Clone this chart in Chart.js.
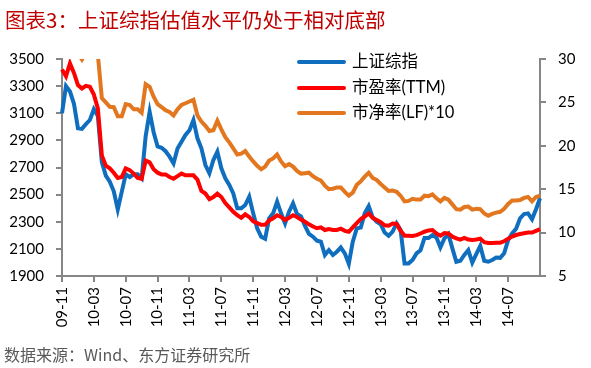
<!DOCTYPE html>
<html><head><meta charset="utf-8">
<script src="https://cdn.jsdelivr.net/npm/chart.js@4.4.1/dist/chart.umd.min.js"></script>
<style>html,body{margin:0;padding:0;background:#fff;}canvas{display:block}</style>
</head><body>
<canvas id="c" width="591" height="368"></canvas>
<script>
const titleText = '图表3：上证综指估值水平仍处于相对底部';
const sourceText = '数据来源：Wind、东方证券研究所';
const seriesNames = ['上证综指', '市盈率(TTM)', '市净率(LF)*10'];
const tickLabels = ['09-11','10-03','10-07','10-11','11-03','11-07','11-11','12-03','12-07','12-11','13-03','13-07','13-11','14-03','14-07'];
const categories = [
 "09-11-01","09-11-16","09-12-01","09-12-16",
 "10-01-01","10-01-16","10-02-01","10-02-16","10-03-01","10-03-16","10-04-01","10-04-16","10-05-01","10-05-16","10-06-01","10-06-16","10-07-01","10-07-16","10-08-01","10-08-16","10-09-01","10-09-16","10-10-01","10-10-16","10-11-01","10-11-16","10-12-01","10-12-16",
 "11-01-01","11-01-16","11-02-01","11-02-16","11-03-01","11-03-16","11-04-01","11-04-16","11-05-01","11-05-16","11-06-01","11-06-16","11-07-01","11-07-16","11-08-01","11-08-16","11-09-01","11-09-16","11-10-01","11-10-16","11-11-01","11-11-16","11-12-01","11-12-16",
 "12-01-01","12-01-16","12-02-01","12-02-16","12-03-01","12-03-16","12-04-01","12-04-16","12-05-01","12-05-16","12-06-01","12-06-16","12-07-01","12-07-16","12-08-01","12-08-16","12-09-01","12-09-16","12-10-01","12-10-16","12-11-01","12-11-16","12-12-01","12-12-16",
 "13-01-01","13-01-16","13-02-01","13-02-16","13-03-01","13-03-16","13-04-01","13-04-16","13-05-01","13-05-16","13-06-01","13-06-16","13-07-01","13-07-16","13-08-01","13-08-16","13-09-01","13-09-16","13-10-01","13-10-16","13-11-01","13-11-16","13-12-01","13-12-16",
 "14-01-01","14-01-16","14-02-01","14-02-16","14-03-01","14-03-16","14-04-01","14-04-16","14-05-01","14-05-16","14-06-01","14-06-16","14-07-01","14-07-16","14-08-01","14-08-16","14-09-01","14-09-16","14-10-01","14-10-16","14-11-01"
];
const sseIndex = [
 3100,3300,3260,3170,2990,2985,3020,3050,3130,3080,
 2740,2640,2595,2525,2390,2520,2650,2630,2650,2650,
 2620,2930,3110,2960,2855,2845,2820,2780,2730,2840,
 2890,2940,2975,3050,2915,2841,2718,2657,2755,2816,
 2694,2620,2571,2509,2399,2399,2423,2485,2362,2251,
 2190,2175,2325,2362,2448,2362,2288,2374,2436,2357,
 2340,2270,2210,2190,2160,2153,2055,2091,2055,2079,
 2110,2067,1990,2153,2251,2257,2362,2415,2332,2300,
 2282,2220,2196,2227,2288,2239,1993,1993,2018,2067,
 2090,2180,2180,2202,2184,2111,2177,2208,2104,2005,
 2012,2055,2091,1999,2061,2122,2012,2005,2018,2036,
 2034,2067,2165,2214,2249,2325,2357,2362,2318,2392,
 2473
];
const peTTM = [
 28.8,28.0,29.5,28.4,27.0,26.6,26.9,26.8,25.9,24.3,
 18.9,17.7,17.4,16.9,16.3,16.4,17.4,17.2,16.8,16.3,
 16.2,18.3,18.1,17.3,16.9,16.7,16.7,16.4,16.2,16.5,
 16.8,16.6,16.6,16.6,16.1,14.8,14.5,13.85,14.1,14.5,
 14.1,13.4,12.9,12.4,12.0,11.7,12.1,11.8,11.3,11.1,
 10.9,10.9,11.4,11.65,12.0,11.8,11.45,11.7,12.0,11.8,
 11.5,11.25,10.95,10.7,10.5,10.6,10.3,10.4,10.3,10.3,
 10.45,10.2,10.1,10.6,11.1,11.55,11.85,12.2,11.7,11.45,
 11.2,10.85,10.8,11.05,11.0,10.2,9.65,9.65,9.6,9.7,
 9.9,10.1,10.25,10.3,9.9,9.65,9.95,9.9,9.53,9.34,
 9.2,9.4,9.2,9.15,9.2,9.3,8.9,8.8,8.8,8.84,
 8.84,9.0,9.3,9.55,9.72,9.84,9.92,10.0,10.0,10.2,
 10.4
];
const pbLF10 = [
 34.5,34.0,34.5,33.0,30.6,29.95,30.8,31.2,31.5,30.5,
 25.5,25.0,24.5,24.45,23.4,23.4,24.8,24.7,24.2,24.2,
 23.8,27.1,26.8,25.66,24.8,24.45,24.1,23.9,23.5,24.2,
 24.7,24.9,25.1,25.3,23.5,22.8,22.3,21.7,21.8,22.9,
 21.9,21.0,20.4,19.7,19.0,19.1,19.4,18.75,18.2,17.7,
 17.3,17.6,18.3,18.55,19.0,18.2,17.65,17.9,17.6,17.1,
 16.8,16.85,16.9,16.5,16.2,16.0,15.4,15.0,15.05,15.2,
 15.2,14.7,14.25,14.6,15.5,15.9,16.45,16.9,16.3,16.06,
 15.6,15.2,14.8,14.85,14.7,14.25,13.6,13.65,13.9,13.8,
 13.8,14.25,14.2,14.4,13.95,13.6,14.0,13.8,13.25,12.7,
 12.65,12.95,13.0,12.65,12.75,12.7,12.2,11.95,12.15,12.3,
 12.4,12.75,13.3,13.7,13.7,13.75,14.0,14.1,13.6,14.1,
 14.25
];

const AXIS = '#868686';
const tickFont = { family: 'Lato, "Liberation Sans", sans-serif', size: 15 };

const decor = {
  id: 'decor',
  beforeDraw(chart) {
    const ctx = chart.ctx; ctx.save();
    ctx.fillStyle = '#fff'; ctx.fillRect(0, 0, chart.width, chart.height);
    ctx.restore();
  },
  afterDraw(chart) {
    const ctx = chart.ctx; ctx.save();
    ctx.textBaseline = 'middle'; ctx.textAlign = 'left';
    ctx.fillStyle = '#C00000';
    ctx.font = '20.5px "Noto Sans CJK SC"';
    ctx.fillText(titleText, 5, 20);
    ctx.fillStyle = '#595959';
    ctx.font = '16px "Noto Sans CJK SC"';
    ctx.fillText(sourceText, 4, 355);
    const rows = [62, 88, 113];
    chart.data.datasets.forEach((ds, k) => {
      ctx.strokeStyle = ds.borderColor; ctx.lineWidth = 4; ctx.lineCap = 'round';
      ctx.beginPath(); ctx.moveTo(299, rows[k]); ctx.lineTo(344, rows[k]); ctx.stroke();
      ctx.fillStyle = '#000';
      ctx.font = '16.5px Lato, "Noto Sans CJK SC"';
      ctx.fillText(ds.label, 352, rows[k]);
    });
    ctx.restore();
  }
};

new Chart(document.getElementById('c'), {
  type: 'line',
  data: {
    labels: categories,
    datasets: [
      { label: seriesNames[0], data: sseIndex, yAxisID: 'y', borderColor: '#0F6EBE', borderWidth: 4, pointRadius: 0, tension: 0, order: 3 },
      { label: seriesNames[1], data: peTTM, yAxisID: 'y2', borderColor: '#FF0000', borderWidth: 4, pointRadius: 0, tension: 0, order: 2 },
      { label: seriesNames[2], data: pbLF10, yAxisID: 'y2', borderColor: '#E2771F', borderWidth: 4, pointRadius: 0, tension: 0, order: 1,
        clip: { left: 5, right: 5, top: 0, bottom: 5 } }
    ]
  },
  options: {
    responsive: false,
    animation: false,
    devicePixelRatio: 1,
    layout: { padding: { top: 59, left: 0, right: 0, bottom: 0 } },
    plugins: { legend: { display: false }, tooltip: { enabled: false }, title: { display: false } },
    scales: {
      x: {
        type: 'category',
        offset: false,
        afterBuildTicks: (s) => {
          s.ticks = s.ticks.filter(t => {
            const c = categories[t.value];
            return c.endsWith('-01') && tickLabels.includes(c.slice(0, 5));
          });
        },
        afterFit: (s) => { s.height = 92; },
        border: { display: true, color: AXIS, width: 2 },
        grid: { display: true, drawOnChartArea: false, drawTicks: true, tickLength: 6, color: AXIS, tickColor: AXIS, lineWidth: 2 },
        ticks: {
          autoSkip: false, minRotation: 90, maxRotation: 90, padding: 5,
          color: '#000', font: tickFont,
          callback: function (v) { return this.getLabelForValue(v).slice(0, 5); }
        }
      },
      y: {
        position: 'left', min: 1900, max: 3500,
        afterFit: (s) => { s.width = 62; },
        border: { display: true, color: AXIS, width: 2 },
        grid: { display: true, drawOnChartArea: false, drawTicks: true, tickLength: 6, color: AXIS, tickColor: AXIS, lineWidth: 2 },
        ticks: { stepSize: 200, padding: 12, color: '#000', font: tickFont, callback: (v) => String(v) }
      },
      y2: {
        position: 'right', min: 5, max: 30,
        afterFit: (s) => { s.width = 51; },
        border: { display: true, color: AXIS, width: 2 },
        grid: { display: true, drawOnChartArea: false, drawTicks: true, tickLength: 6, color: AXIS, tickColor: AXIS, lineWidth: 2 },
        ticks: { stepSize: 5, padding: 12, color: '#000', font: tickFont, callback: (v) => String(v) }
      }
    }
  },
  plugins: [decor]
});
</script>
</body></html>
